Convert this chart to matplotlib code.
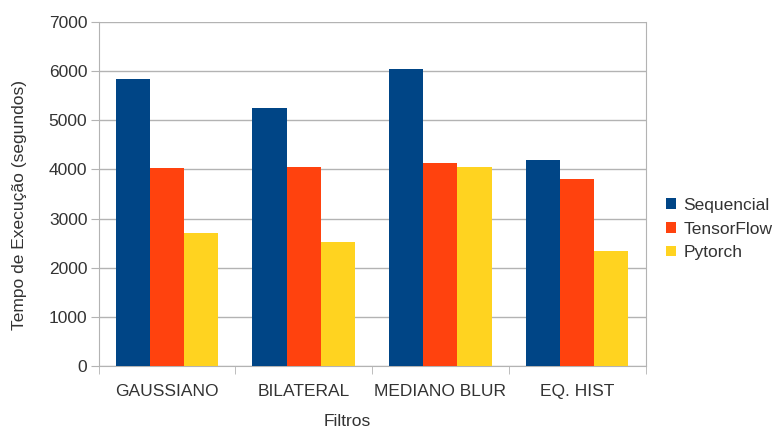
import matplotlib.pyplot as plt
import numpy as np

# Data
filtros = ["GAUSSIANO", "BILATERAL", "MEDIANO BLUR", "EQ. HIST"]
sequencial = [5840, 5260, 6035, 4195]
tensorflow = [4020, 4045, 4135, 3810]
pytorch = [2700, 2520, 4045, 2350]

series = ["Sequencial", "TensorFlow", "Pytorch"]
colors = ["#004586", "#ff420e", "#ffd320"]

plt.rcParams['font.family'] = ['Liberation Sans', 'DejaVu Sans']
text_color = "#333333"
grid_color = "#b3b3b3"
fs = 12.5

fig = plt.figure(figsize=(7.72, 4.29), dpi=100)
ax = fig.add_axes([98.5 / 772, 63 / 429, 547 / 772, 344 / 429])

x = np.arange(len(filtros))
width = 0.25
for i, (vals, name) in enumerate(zip([sequencial, tensorflow, pytorch], series)):
    ax.bar(x + (i - 1) * width, vals, width, color=colors[i], label=name, zorder=3)

ax.set_xlim(-0.5, len(filtros) - 0.5)
ax.set_ylim(0, 7000)
ax.set_yticks(np.arange(0, 7001, 1000))
ax.set_xticks(x)
ax.set_xticklabels(filtros)
ax.set_xticks(np.arange(-0.5, len(filtros), 1), minor=True)

ax.tick_params(axis='x', which='major', length=0, pad=13, labelsize=fs, labelcolor=text_color)
ax.tick_params(axis='x', which='minor', length=6, color=grid_color, direction='out')
ax.tick_params(axis='y', length=6, color=grid_color, pad=2, labelsize=fs, labelcolor=text_color)

ax.grid(axis='y', color=grid_color, linewidth=1, zorder=0)
for side in ['left', 'bottom', 'right']:
    ax.spines[side].set_color(grid_color)
ax.spines['top'].set_visible(False)

fig.text(19.5 / 772, 1 - 205.5 / 429, "Tempo de Execução (segundos)", rotation=90,
         ha='center', va='center', fontsize=fs, color=text_color)
fig.text(347 / 772, 1 - 422 / 429, "Filtros", ha='center', va='center',
         fontsize=fs, color=text_color)

leg = fig.legend(loc='center left', bbox_to_anchor=(666 / 772, 1 - 229 / 429),
                 frameon=False, fontsize=fs, handlelength=0.55, handleheight=0.55,
                 handletextpad=0.45, labelspacing=0.5, borderpad=0, borderaxespad=0)
for t in leg.get_texts():
    t.set_color(text_color)

fig.savefig("out.png", dpi=100)
